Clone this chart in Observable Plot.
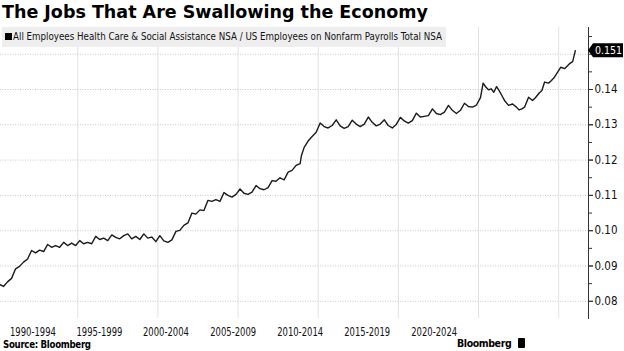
<!DOCTYPE html>
<html><head><meta charset="utf-8">
<script src="https://cdn.jsdelivr.net/npm/d3@7"></script>
<script src="https://cdn.jsdelivr.net/npm/@observablehq/plot@0.6"></script>
<style>
html,body{margin:0;padding:0;background:#fff;}
body{width:624px;height:351px;position:relative;overflow:hidden;font-family:"DejaVu Sans",sans-serif;color:#000;}
#title{position:absolute;left:2px;top:2px;font-weight:bold;font-size:17.5px;font-family:"DejaVu Sans";white-space:nowrap;}
#chart{position:absolute;left:0;top:27px;}
#legend{position:absolute;left:2px;top:27px;height:20px;width:444px;background:#eeeeee;font-family:"DejaVu Sans Condensed";font-size:9.7px;line-height:20px;white-space:nowrap;color:#111;}
#legend .sw{display:inline-block;width:7px;height:7px;background:#000;margin:0 1px 0 3px;vertical-align:0px;}
#source{position:absolute;left:3px;top:340px;line-height:10px;font-weight:bold;font-size:9.6px;letter-spacing:-0.3px;font-family:"DejaVu Sans Condensed";white-space:nowrap;}
#logo{position:absolute;left:457px;top:337px;line-height:12px;font-size:10.5px;letter-spacing:-0.4px;font-family:"DejaVu Sans Condensed";font-weight:bold;white-space:nowrap;}
#logo .ic{display:inline-block;width:7px;height:10px;background:#000;border-radius:1px;margin-left:7px;vertical-align:-1px;}
</style></head>
<body>
<div id="title">The Jobs That Are Swallowing the Economy</div>
<div id="chart"></div>
<div id="legend"><span class="sw"></span>All Employees Health Care &amp; Social Assistance NSA / US Employees on Nonfarm Payrolls Total NSA</div>
<div id="source">Source: Bloomberg</div>
<div id="logo">Bloomberg<span class="ic"></span></div>
<script>
// Share of health care & social assistance in total nonfarm payrolls (NSA)
const dates = [
 "1990-02","1990-05","1990-08","1990-11",
 "1991-02","1991-05","1991-08","1991-11",
 "1992-02","1992-05","1992-08","1992-11",
 "1993-02","1993-05","1993-08","1993-11",
 "1994-02","1994-05","1994-08","1994-11",
 "1995-02","1995-05","1995-08","1995-11",
 "1996-02","1996-05","1996-08","1996-11",
 "1997-02","1997-05","1997-08","1997-11",
 "1998-02","1998-05","1998-08","1998-11",
 "1999-02","1999-05","1999-08","1999-11",
 "2000-02","2000-05","2000-08","2000-11",
 "2001-02","2001-05","2001-08","2001-11",
 "2002-02","2002-05","2002-08","2002-11",
 "2003-02","2003-05","2003-08","2003-11",
 "2004-02","2004-05","2004-08","2004-11",
 "2005-02","2005-05","2005-08","2005-11",
 "2006-02","2006-05","2006-08","2006-11",
 "2007-02","2007-05","2007-08","2007-11",
 "2008-02","2008-05","2008-08","2008-11","2008-12",
 "2009-02","2009-05","2009-08","2009-11",
 "2010-02","2010-05","2010-08","2010-11",
 "2011-02","2011-05","2011-08","2011-11",
 "2012-02","2012-05","2012-08","2012-11",
 "2013-02","2013-05","2013-08","2013-11",
 "2014-02","2014-05","2014-08","2014-11",
 "2015-02","2015-05","2015-08","2015-11",
 "2016-02","2016-05","2016-08","2016-11",
 "2017-02","2017-05","2017-08","2017-11",
 "2018-02","2018-05","2018-08","2018-11",
 "2019-02","2019-05","2019-08","2019-11",
 "2020-02","2020-04","2020-06","2020-08","2020-10","2020-12",
 "2021-02","2021-04","2021-06","2021-08","2021-11",
 "2022-02","2022-05","2022-07","2022-09","2022-11",
 "2023-02","2023-05","2023-07","2023-10","2023-12",
 "2024-02","2024-05","2024-07","2024-09",
 "2025-02","2025-05","2025-09","2025-11",
 "2026-01"
];
const share = [
 0.0848,0.0842,0.0855,0.0865,
 0.0892,0.0899,0.0911,0.0920,
 0.0944,0.0937,0.0945,0.0941,
 0.0961,0.0953,0.0958,0.0953,
 0.0967,0.0958,0.0965,0.0958,
 0.0972,0.0963,0.0967,0.0963,
 0.0984,0.0975,0.0979,0.0972,
 0.0988,0.0981,0.0977,0.0986,
 0.0991,0.0977,0.0984,0.0975,
 0.0991,0.0979,0.0982,0.0969,
 0.0986,0.0971,0.0967,0.0974,
 0.0998,0.1001,0.1015,0.1022,
 0.1050,0.1047,0.1059,0.1057,
 0.1086,0.1083,0.1088,0.1083,
 0.1108,0.1100,0.1095,0.1103,
 0.1118,0.1106,0.1103,0.1109,
 0.1128,0.1119,0.1116,0.1122,
 0.1142,0.1140,0.1150,0.1144,
 0.1166,0.1171,0.1185,0.1190,0.1213,
 0.1236,0.1254,0.1267,0.1279,
 0.1305,0.1295,0.1291,0.1298,
 0.1314,0.1297,0.1290,0.1295,
 0.1313,0.1302,0.1295,0.1302,
 0.1322,0.1307,0.1297,0.1302,
 0.1314,0.1298,0.1291,0.1301,
 0.1321,0.1311,0.1305,0.1312,
 0.1333,0.1322,0.1324,0.1326,
 0.1345,0.1332,0.1329,0.1336,
 0.1355,0.1341,0.1332,0.1341,
 0.1361,0.1352,0.1350,0.1356,
 0.1377,0.1418,0.1407,0.1399,0.1402,0.1392,
 0.1408,0.1397,0.1383,0.1369,0.1355,
 0.1359,0.1350,0.1342,0.1345,0.1350,
 0.1378,0.1369,0.1376,0.1390,0.1397,
 0.1421,0.1418,0.1425,0.1433,
 0.1463,0.1459,0.1474,0.1479,
 0.1510
];
const lastValue = 0.151;
const periodLabels = ["1990-1994","1995-1999","2000-2004","2005-2009","2010-2014","2015-2019","2020-2024"];
const periodLabelDates = ["1992-03-16","1996-05-10","2000-07-03","2004-09-12","2008-11-15","2013-01-21","2017-03-27"];
const gridYears = [1995,2000,2005,2010,2015,2020,2025];
const yTicks = [0.08,0.09,0.10,0.11,0.12,0.13,0.14,0.15];
const yLabelTicks = [0.08,0.09,0.10,0.11,0.12,0.13,0.14]; // 0.15 sits under the last-value tag
const yMinorTicks = [0.085,0.095,0.105,0.115,0.125,0.135,0.145,0.155];

const parseMonth = s => { const [y,m] = s.split("-").map(Number); return new Date(Date.UTC(y, m-1, 15)); };
const data = dates.map((d,i) => ({date: parseMonth(d), value: share[i]}));
const labelDates = periodLabelDates.map(s => new Date(s + "T00:00:00Z"));
const gridDates = gridYears.map(y => new Date(Date.UTC(y,0,1)));
const xDomain = [new Date(Date.UTC(1990,2,8)), new Date(Date.UTC(2026,10,11))];

const plot = Plot.plot({
  width: 624, height: 313,
  marginLeft: 0, marginRight: 36, marginTop: 0, marginBottom: 22,
  style: {fontFamily: "'DejaVu Sans Condensed', sans-serif", fontSize: "11px", color: "#000", background: "transparent"},
  x: {type: "utc", domain: xDomain},
  y: {domain: [0.07513, 0.15756]},
  marks: [
    Plot.gridX(gridDates, {stroke: "#e2e2e2", strokeOpacity: 1, strokeWidth: 1}),
    Plot.gridY(yTicks, {stroke: "#c8c8c8", strokeOpacity: 1, strokeDasharray: "1,1.5"}),
    Plot.axisX(labelDates, {tickSize: 0, tickPadding: 9, fontSize: 11.5, fill: "#111", label: null,
      tickFormat: d => periodLabels[labelDates.findIndex(t => +t === +d)]}),
    Plot.axisY(yMinorTicks, {anchor: "right", tickSize: 3, stroke: "#333", label: null, tickFormat: () => ""}),
    Plot.axisY(yTicks, {anchor: "right", tickSize: 4, stroke: "#333", label: null, tickFormat: () => ""}),
    Plot.axisY(yLabelTicks, {anchor: "right", tickSize: 4, tickPadding: 2, stroke: "#333", label: null,
      fontSize: 11.5, fill: "#111", tickFormat: d3.format(".2f")}),
    Plot.frame({anchor: "right", stroke: "#333"}),
    Plot.lineY(data, {x: "date", y: "value", stroke: "#1a1a1a", strokeWidth: 1.4, clip: true})
  ]
});
document.getElementById("chart").appendChild(plot);

const svg = d3.select(plot);
// narrow the period labels to the reference's compact typeface width
svg.selectAll('g[aria-label="x-axis tick label"] text')
  .attr("textLength", 46).attr("lengthAdjust", "spacingAndGlyphs");

// last-value tag on the right axis, positioned with the plot's own y scale
const yPos = plot.scale("y").apply(lastValue);
const xPos = 624 - 36;
const g = svg.append("g");
g.append("path")
  .attr("d", `M${xPos},${yPos} L${xPos+5},${yPos-7} H${xPos+35} V${yPos+7} H${xPos+5} Z`)
  .attr("fill", "#000");
g.append("text")
  .attr("x", xPos + 20.5).attr("y", yPos).attr("dy", "0.36em")
  .attr("text-anchor", "middle").attr("fill", "#fff")
  .attr("font-size", 10.5)
  .text(d3.format(".3f")(lastValue));
</script>
</body></html>
